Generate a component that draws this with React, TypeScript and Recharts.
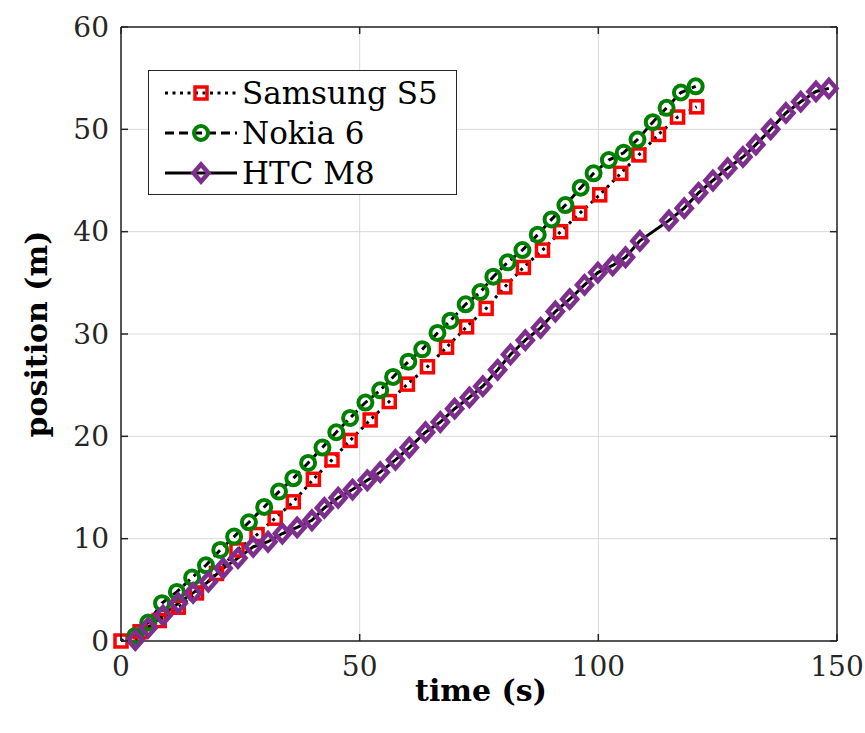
import React from 'react';
import { LineChart, Line, XAxis, YAxis, CartesianGrid, ReferenceLine, Label } from 'recharts';

// Samsung S5 track
const samsungTime = [0, 4, 8, 12, 15.8, 20, 24.3, 28.5, 32.3, 36.1, 40.3, 44.2, 48, 52.2, 56.2, 60, 64.2, 68.2, 72.4, 76.5, 80.4, 84.3, 88.3, 92.1, 96.1, 100.3, 104.7, 108.5, 112.6, 116.6, 120.6];
const samsungPos = [0, 0.9, 2.0, 3.3, 4.7, 6.6, 8.9, 10.4, 12.0, 13.6, 15.8, 17.7, 19.6, 21.6, 23.4, 25.1, 26.8, 28.7, 30.7, 32.5, 34.6, 36.5, 38.2, 40.0, 41.8, 43.6, 45.7, 47.5, 49.5, 51.2, 52.2];

// Nokia 6 track
const nokiaTime = [3, 5.7, 8.6, 11.7, 14.9, 17.8, 20.8, 23.7, 26.8, 30, 33.1, 36.1, 39.2, 42.2, 45.1, 48, 51.2, 54.3, 57, 60.2, 63.1, 66.3, 69, 72.2, 75.3, 78, 81, 84.1, 87.3, 90.2, 93.1, 96.3, 99, 102.2, 105.3, 108.2, 111.4, 114.3, 117.3, 120.4];
const nokiaPos = [0.5, 1.8, 3.7, 4.8, 6.2, 7.4, 8.9, 10.2, 11.6, 13.1, 14.6, 15.9, 17.4, 18.9, 20.4, 21.8, 23.3, 24.5, 25.8, 27.3, 28.5, 30.1, 31.3, 32.9, 34.1, 35.6, 37.0, 38.2, 39.7, 41.2, 42.6, 44.3, 45.7, 47.0, 47.7, 49.0, 50.7, 52.1, 53.6, 54.2];

// HTC M8 track
const htcTime = [3, 5.7, 8.8, 12, 15.1, 18.3, 21.4, 24.5, 27.7, 30.8, 33.8, 36.9, 40, 42.6, 45.5, 48.5, 51.6, 54.3, 57.5, 60.4, 63.8, 66.9, 69.9, 73, 75.8, 78.9, 81.6, 84.7, 87.9, 91, 94, 97.1, 99.9, 103, 105.7, 108.7, 114.8, 118, 121, 124, 127.1, 130.3, 133, 136.1, 139.3, 142.4, 145.6, 148.3];
const htcPos = [0.1, 1.3, 2.5, 3.7, 4.7, 5.8, 7.1, 8.1, 9.2, 9.7, 10.5, 11.1, 11.8, 13.0, 14.0, 14.8, 15.7, 16.5, 17.7, 18.9, 20.4, 21.4, 22.7, 23.8, 24.9, 26.5, 28.0, 29.4, 30.6, 32.2, 33.4, 34.8, 36.0, 36.7, 37.5, 39.1, 41.1, 42.3, 43.8, 45.0, 46.2, 47.3, 48.5, 50.0, 51.6, 52.7, 53.7, 54.0];

const xTicks = [0, 50, 100, 150];
const yTicks = [0, 10, 20, 30, 40, 50, 60];

const W = 865;
const H = 733;
const PLOT = { left: 121, top: 27, right: 837, bottom: 641 };
const FONT = '"DejaVu Serif", serif';
const AXIS_COLOR = '#262626';
const TICK_LEN = 7;

const toPoints = (ts: number[], vs: number[]) => ts.map((t, i) => ({ t, v: vs[i] }));

const RED = '#ff0000';
const GREEN = '#008000';
const PURPLE = '#7e2f8e';

const Square = ({ cx, cy, index }: any) => (
  <rect key={`sq-${index}`} x={cx - 6} y={cy - 6} width={12} height={12} fill="none" stroke={RED} strokeWidth={3.5} />
);
const Circle = ({ cx, cy, index }: any) => (
  <circle key={`ci-${index}`} cx={cx} cy={cy} r={7} fill="none" stroke={GREEN} strokeWidth={4} />
);
const Diamond = ({ cx, cy, index }: any) => (
  <path key={`di-${index}`} d={`M${cx},${cy - 8.5}L${cx + 7.5},${cy}L${cx},${cy + 8.5}L${cx - 7.5},${cy}Z`} fill="none" stroke={PURPLE} strokeWidth={4.5} />
);

const series = [
  { name: 'Samsung S5', data: toPoints(samsungTime, samsungPos), dash: '3 4.5', marker: Square },
  { name: 'Nokia 6', data: toPoints(nokiaTime, nokiaPos), dash: '9 5', marker: Circle },
  { name: 'HTC M8', data: toPoints(htcTime, htcPos), dash: undefined, marker: Diamond },
];

// bottom labels + inward ticks on bottom and top edges
const XTick = ({ x, y, payload }: any) => (
  <g>
    <line x1={x} x2={x} y1={PLOT.bottom} y2={PLOT.bottom - TICK_LEN} stroke={AXIS_COLOR} strokeWidth={1.5} />
    <line x1={x} x2={x} y1={PLOT.top} y2={PLOT.top + TICK_LEN} stroke={AXIS_COLOR} strokeWidth={1.5} />
    <text x={x} y={y + 35} textAnchor="middle" fontFamily={FONT} fontSize={28} fill={AXIS_COLOR}>
      {payload.value}
    </text>
  </g>
);

// left labels + inward ticks on left and right edges
const YTick = ({ x, y, payload }: any) => (
  <g>
    <line x1={PLOT.left} x2={PLOT.left + TICK_LEN} y1={y} y2={y} stroke={AXIS_COLOR} strokeWidth={1.5} />
    <line x1={PLOT.right} x2={PLOT.right - TICK_LEN} y1={y} y2={y} stroke={AXIS_COLOR} strokeWidth={1.5} />
    <text x={x - 12} y={y} textAnchor="end" dominantBaseline="central" fontFamily={FONT} fontSize={28} fill={AXIS_COLOR}>
      {payload.value}
    </text>
  </g>
);

const LegendBox = () => (
  <div
    style={{
      position: 'absolute',
      left: 148,
      top: 70,
      width: 309,
      height: 125,
      boxSizing: 'border-box',
      border: `1.5px solid ${AXIS_COLOR}`,
      background: '#fff',
    }}
  >
    <svg width={306} height={122}>
      {series.map((s, i) => {
        const cy = 22 + i * 40;
        const Marker = s.marker;
        return (
          <g key={s.name}>
            <line x1={16} x2={88} y1={cy} y2={cy} stroke="#000" strokeWidth={3} strokeDasharray={s.dash} />
            <Marker cx={52} cy={cy} index={i} />
            <text x={93} y={cy} dominantBaseline="central" fontFamily={FONT} fontSize={31} fill="#000">
              {s.name}
            </text>
          </g>
        );
      })}
    </svg>
  </div>
);

export default function App() {
  return (
    <div style={{ position: 'absolute', left: 0, top: 0, width: W, height: H, background: '#fff' }}>
      <LineChart
        width={W}
        height={H}
        margin={{ top: PLOT.top, right: W - PLOT.right, left: 0, bottom: 0 }}
      >
        <CartesianGrid stroke="#d9d9d9" strokeWidth={1} />
        <XAxis
          dataKey="t"
          type="number"
          domain={[0, 150]}
          ticks={xTicks}
          height={H - PLOT.bottom}
          tickSize={0}
          tickMargin={0}
          tickLine={false}
          axisLine={{ stroke: AXIS_COLOR, strokeWidth: 1.5 }}
          tick={<XTick />}
          interval={0}
        >
          <Label
            content={() => (
              <text x={(PLOT.left + PLOT.right) / 2 + 2} y={701} textAnchor="middle" fontFamily={FONT} fontWeight="bold" fontSize={30} fill="#000">
                time (s)
              </text>
            )}
          />
        </XAxis>
        <YAxis
          type="number"
          domain={[0, 60]}
          ticks={yTicks}
          width={PLOT.left}
          tickSize={0}
          tickMargin={0}
          tickLine={false}
          axisLine={{ stroke: AXIS_COLOR, strokeWidth: 1.5 }}
          tick={<YTick />}
          interval={0}
        >
          <Label
            content={() => (
              <text
                x={36}
                y={(PLOT.top + PLOT.bottom) / 2}
                transform={`rotate(-90 36 ${(PLOT.top + PLOT.bottom) / 2})`}
                textAnchor="middle"
                dominantBaseline="central"
                fontFamily={FONT}
                fontWeight="bold"
                fontSize={30}
                fill="#000"
              >
                position (m)
              </text>
            )}
          />
        </YAxis>
        <ReferenceLine x={150} stroke={AXIS_COLOR} strokeWidth={1.5} />
        <ReferenceLine y={60} stroke={AXIS_COLOR} strokeWidth={1.5} />
        {series.map((s) => (
          <Line
            key={s.name}
            data={s.data}
            dataKey="v"
            name={s.name}
            type="linear"
            stroke="#000"
            strokeWidth={3}
            strokeDasharray={s.dash}
            dot={s.marker}
            activeDot={false}
            isAnimationActive={false}
          />
        ))}
      </LineChart>
      <LegendBox />
    </div>
  );
}
